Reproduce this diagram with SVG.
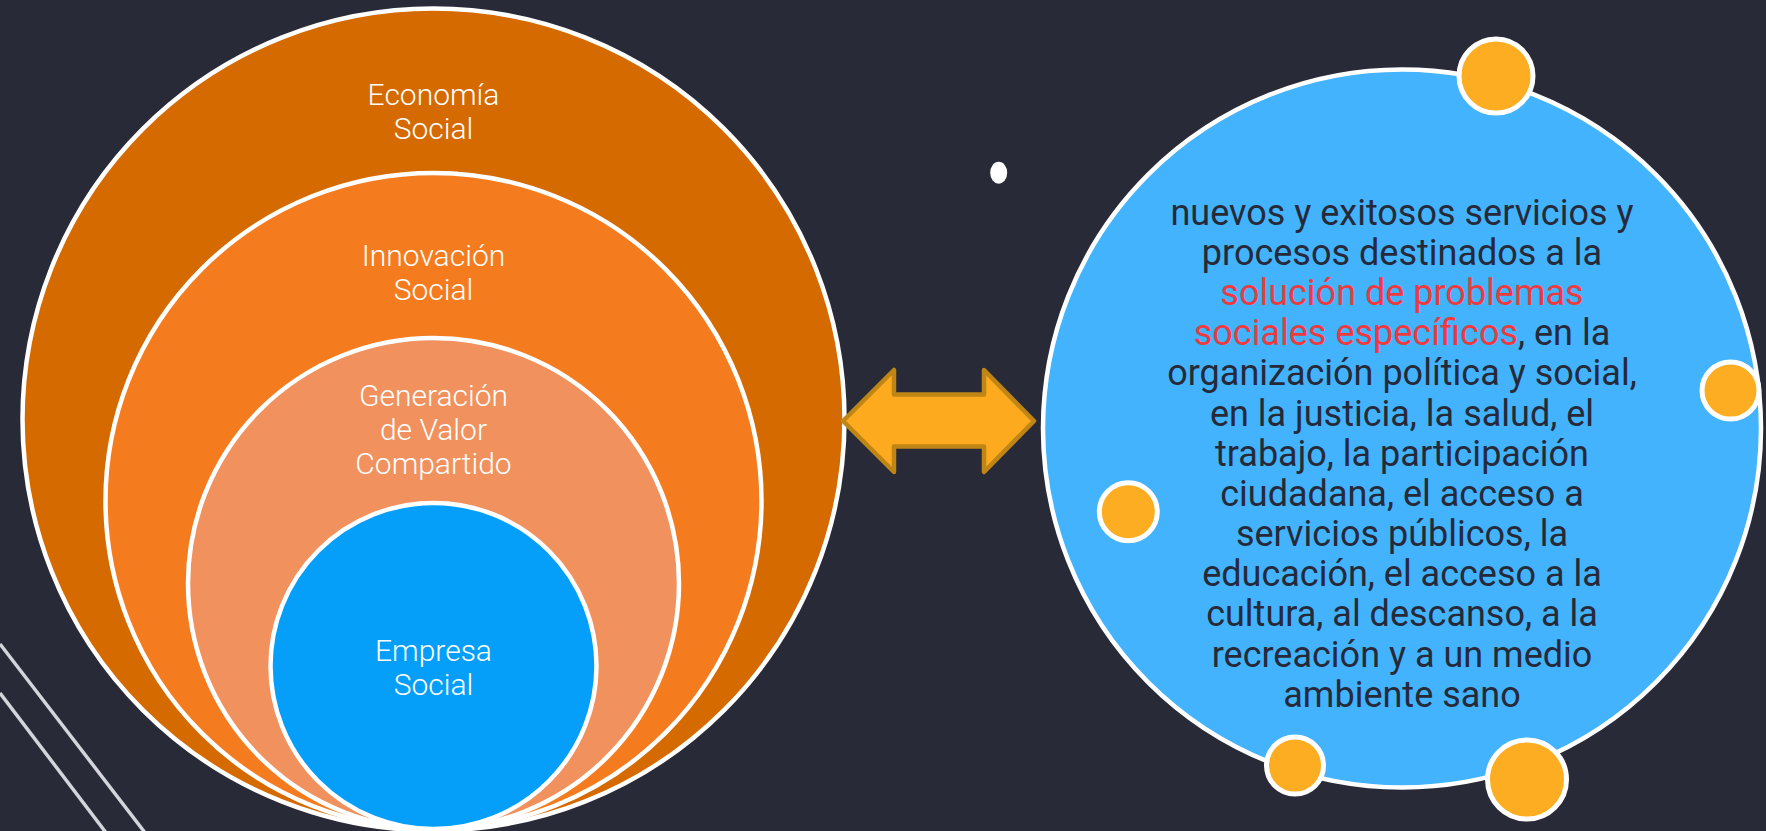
<svg xmlns="http://www.w3.org/2000/svg" width="1766" height="831" viewBox="0 0 1766 831">
<style>
.ring{stroke:#ffffff;stroke-width:4.5}
.lbl{font-family:Roboto,"Liberation Sans",sans-serif;font-weight:300;font-size:30px;fill:#ffffff;text-anchor:middle}
.dot{fill:#fdad21;stroke:#ffffff;stroke-width:5}
.body{font-family:Roboto,"Liberation Sans",sans-serif;font-weight:400;font-size:36px;fill:#262a38;text-anchor:middle}
.red{fill:#ee3a3f}
.deco{stroke:#d4d4dc;stroke-width:3.5}
</style>
<rect width="1766" height="831" fill="#282a37"/>
<g id="decor">
<line class="deco" x1="0" y1="644" x2="146" y2="834"/>
<line class="deco" x1="0" y1="693" x2="107" y2="834"/>
<ellipse cx="998.7" cy="172.8" rx="8.5" ry="11" fill="#ffffff"/>
</g>
<g id="economia-social">
<circle class="ring" cx="433.5" cy="419.5" r="411" fill="#d46a00"/>
<text class="lbl" x="433.5" y="105">Economía</text>
<text class="lbl" x="433.5" y="139">Social</text>
</g>
<g id="innovacion-social">
<circle class="ring" cx="433.5" cy="501" r="328" fill="#f57c1e"/>
<text class="lbl" x="433.5" y="266">Innovación</text>
<text class="lbl" x="433.5" y="300">Social</text>
</g>
<g id="generacion-valor">
<circle class="ring" cx="433.5" cy="583.5" r="245.5" fill="#f0915e"/>
<text class="lbl" x="433.5" y="406">Generación</text>
<text class="lbl" x="433.5" y="440">de Valor</text>
<text class="lbl" x="433.5" y="474">Compartido</text>
</g>
<g id="empresa-social">
<circle class="ring" cx="433.5" cy="666" r="163" fill="#059ff9"/>
<text class="lbl" x="433.5" y="661">Empresa</text>
<text class="lbl" x="433.5" y="695">Social</text>
</g>
<g id="connectors">
<path d="M843,421 L894,370 L894,394.5 L984,394.5 L984,370 L1034,421 L984,472 L984,446.5 L894,446.5 L894,472 Z" fill="#fdaa1f" stroke="#bf8515" stroke-width="4.5" stroke-linejoin="round"/>
</g>
<g id="innovacion-definicion">
<circle cx="1402" cy="428.5" r="359" fill="#42b3fc" stroke="#ffffff" stroke-width="4.5"/>
<circle class="dot" cx="1496" cy="76" r="37"/>
<circle class="dot" cx="1730.5" cy="390.5" r="28.5"/>
<circle class="dot" cx="1128.3" cy="511.7" r="29"/>
<circle class="dot" cx="1295" cy="765.5" r="28.5"/>
<circle class="dot" cx="1527" cy="779.5" r="39.5"/>
<text class="body" x="1402" y="224.7">nuevos y exitosos servicios y</text>
<text class="body" x="1402" y="264.9">procesos destinados a la</text>
<text class="body red" x="1402" y="305">solución de problemas</text>
<text class="body" x="1402" y="345.2"><tspan class="red">sociales específicos</tspan>, en la</text>
<text class="body" x="1402" y="385.4">organización política y social,</text>
<text class="body" x="1402" y="425.6">en la justicia, la salud, el</text>
<text class="body" x="1402" y="465.7">trabajo, la participación</text>
<text class="body" x="1402" y="505.9">ciudadana, el acceso a</text>
<text class="body" x="1402" y="546.1">servicios públicos, la</text>
<text class="body" x="1402" y="586.3">educación, el acceso a la</text>
<text class="body" x="1402" y="626.4">cultura, al descanso, a la</text>
<text class="body" x="1402" y="666.6">recreación y a un medio</text>
<text class="body" x="1402" y="706.7">ambiente sano</text>
</g>
</svg>
